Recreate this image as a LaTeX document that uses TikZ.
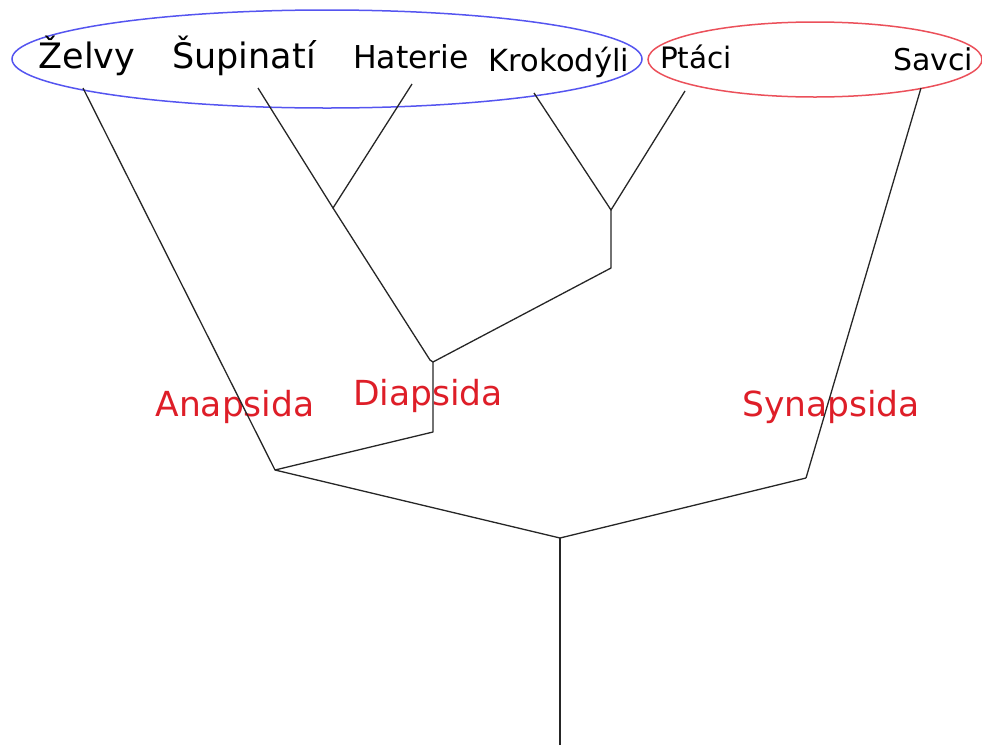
\documentclass[tikz,border=0pt]{standalone}
\usepackage{fontspec}
\setmainfont{DejaVu Sans}
\definecolor{ellblue}{RGB}{85,85,240}
\definecolor{ellred}{RGB}{235,80,90}
\definecolor{cladered}{RGB}{222,30,40}
\begin{document}
\begin{tikzpicture}[x=1pt,y=-1pt,
  taxon/.style={anchor=base,inner sep=0pt,text=black},
  clade/.style={anchor=base,inner sep=0pt,text=cladered,font=\fontsize{34.5}{40}\selectfont},
  branch/.style={draw=black!85,line width=1.3pt,line join=round},
  group/.style={line width=1.5pt}]
\useasboundingbox (0,0) rectangle (982,745);
% groups
\draw[group,draw=ellblue] (327,59) ellipse [x radius=315,y radius=49];
\draw[group,draw=ellred] (815,59.5) ellipse [x radius=167,y radius=37.5];
% taxa
\node[taxon,font=\fontsize{35}{40}\selectfont] (zelvy) at (87,68) {Želvy};
\node[taxon,font=\fontsize{35}{40}\selectfont] (supinati) at (244,68) {Šupinatí};
\node[taxon,font=\fontsize{31.5}{36}\selectfont] (haterie) at (411,68) {Haterie};
\node[taxon,font=\fontsize{30.5}{36}\selectfont] (krokodyli) at (559,71) {Krokodýli};
\node[taxon,font=\fontsize{29.5}{36}\selectfont] (ptaci) at (696,68) {Ptáci};
\node[taxon,font=\fontsize{30}{36}\selectfont] (savci) at (933,70) {Savci};
% clade labels
\node[clade] (anapsida) at (235,416) {Anapsida};
\node[clade] (diapsida) at (428,405) {Diapsida};
\node[clade] (synapsida) at (831,416) {Synapsida};
% branch ends
\coordinate (eZ) at (83,88);
\coordinate (eS) at (258,88);
\coordinate (eH) at (412,84);
\coordinate (eK) at (534,93);
\coordinate (eP) at (685,91);
\coordinate (eSa) at (921,88);
% junctions
\coordinate (root) at (560,745);
\coordinate (j0) at (560,538);
\coordinate (jL) at (275,470);
\coordinate (jR) at (806,478);
\coordinate (jD0) at (433,432);
\coordinate (jD1) at (433,362);
\coordinate (jD) at (430,360);
\coordinate (jSH) at (333,208);
\coordinate (jA0) at (611,268);
\coordinate (jA) at (611,210);
% tree
\draw[branch] (root) -- (j0);
\draw[branch] (jL) -- (j0) -- (jR);
\draw[branch] (jR) -- (eSa);
\draw[branch] (eZ) -- (jL) -- (jD0) -- (jD1);
\draw[branch] (jD1) -- (jD) -- (jSH);
\draw[branch] (eS) -- (jSH) -- (eH);
\draw[branch] (jD1) -- (jA0) -- (jA);
\draw[branch] (eK) -- (jA) -- (eP);
\end{tikzpicture}
\end{document}
